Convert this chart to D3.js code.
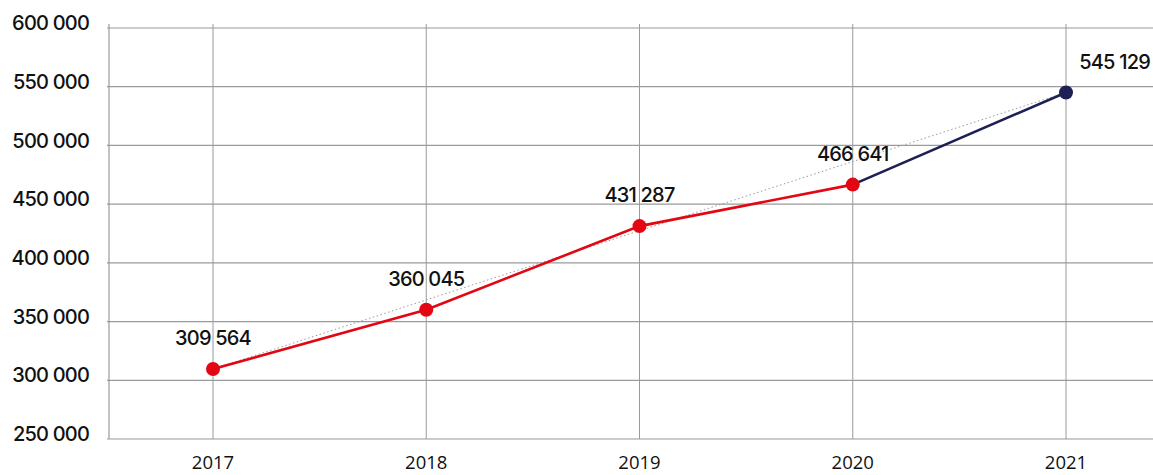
<!DOCTYPE html>
<html>
<head>
<meta charset="utf-8">
<script src="https://cdn.jsdelivr.net/npm/d3@7"></script>
<style>
  html, body { margin: 0; padding: 0; background: #fff; }
  svg { display: block; }
</style>
</head>
<body>
<svg id="chart" width="1153" height="475"></svg>
<script>
// Yearly totals
const years = ["2017", "2018", "2019", "2020", "2021"];
const totals = [309564, 360045, 431287, 466641, 545129];
const valueLabels = ["309 564", "360 045", "431 287", "466 641", "545 129"];
const yTicks = [250000, 300000, 350000, 400000, 450000, 500000, 550000, 600000];
const yTickLabels = ["250 000", "300 000", "350 000", "400 000", "450 000", "500 000", "550 000", "600 000"];

const W = 1153, H = 475;
const plot = { left: 109, right: W, top: 24, bottom: 439 };
const RED = "#e30613", NAVY = "#1d1f55", GRID = "#9a9a9a";

const svg = d3.select("#chart");

const x = d3.scalePoint().domain(years).range([213, 1066]);
const y = d3.scaleLinear().domain([250000, 600000]).range([plot.bottom, 28]);

const pts = years.map((yr, i) => ({ year: yr, value: totals[i], label: valueLabels[i] }));

// horizontal grid
svg.append("g").selectAll("line").data(yTicks).join("line")
  .attr("x1", plot.left - 2).attr("x2", plot.right)
  .attr("y1", d => y(d)).attr("y2", d => y(d))
  .attr("stroke", GRID).attr("stroke-width", 1.2);

// vertical grid + left axis line
svg.append("g").selectAll("line").data(years).join("line")
  .attr("x1", d => x(d)).attr("x2", d => x(d))
  .attr("y1", plot.top).attr("y2", plot.bottom)
  .attr("stroke", GRID).attr("stroke-width", 1);
svg.append("line")
  .attr("x1", plot.left).attr("x2", plot.left).attr("y1", plot.top).attr("y2", plot.bottom)
  .attr("stroke", GRID).attr("stroke-width", 1.2);

const labelFont = { family: "Inter, sans-serif", size: 20, spacing: "-0.8", weight: 500 };

// y labels
svg.append("g").selectAll("text").data(yTicks).join("text")
  .attr("x", 89).attr("y", d => y(d) - 5)
  .attr("dy", "0.36em")
  .attr("text-anchor", "end")
  .attr("font-family", labelFont.family)
  .attr("font-size", labelFont.size)
  .attr("font-weight", labelFont.weight)
  .attr("letter-spacing", labelFont.spacing)
  .attr("fill", "#111")
  .text((d, i) => yTickLabels[i]);

// x labels
svg.append("g").selectAll("text").data(years).join("text")
  .attr("x", d => x(d)).attr("y", 469)
  .attr("text-anchor", "middle")
  .attr("font-family", "'Open Sans', sans-serif")
  .attr("font-size", 18.5)
  .attr("fill", "#111")
  .text(d => d);

// dotted trend from first to last year
const first = pts[0], last = pts[pts.length - 1];
svg.append("line")
  .attr("x1", x(first.year)).attr("y1", y(first.value))
  .attr("x2", x(last.year)).attr("y2", y(last.value))
  .attr("stroke", "#9a9a9a").attr("stroke-width", 1)
  .attr("stroke-dasharray", "1.5,2.5");

const line = d3.line().x(d => x(d.year)).y(d => y(d.value));

// red segment 2017-2020, navy segment 2020-2021
svg.append("path").datum(pts.slice(0, 4))
  .attr("d", line).attr("fill", "none")
  .attr("stroke", RED).attr("stroke-width", 2.6);
svg.append("path").datum(pts.slice(3))
  .attr("d", line).attr("fill", "none")
  .attr("stroke", NAVY).attr("stroke-width", 2.6);

// points
svg.append("g").selectAll("circle").data(pts).join("circle")
  .attr("cx", d => x(d.year)).attr("cy", d => y(d.value))
  .attr("r", 7)
  .attr("fill", (d, i) => i === pts.length - 1 ? NAVY : RED);

// value labels (the last one sits right of its point, kept inside the edge)
const isLast = (d, i) => i === pts.length - 1;
svg.append("g").selectAll("text").data(pts).join("text")
  .attr("x", (d, i) => isLast(d, i) ? W - 3 : x(d.year))
  .attr("y", d => y(d.value) - 31)
  .attr("dy", "0.36em")
  .attr("text-anchor", (d, i) => isLast(d, i) ? "end" : "middle")
  .attr("font-family", labelFont.family)
  .attr("font-size", labelFont.size)
  .attr("font-weight", labelFont.weight)
  .attr("letter-spacing", labelFont.spacing)
  .attr("fill", "#111")
  .text(d => d.label);
</script>
</body>
</html>
